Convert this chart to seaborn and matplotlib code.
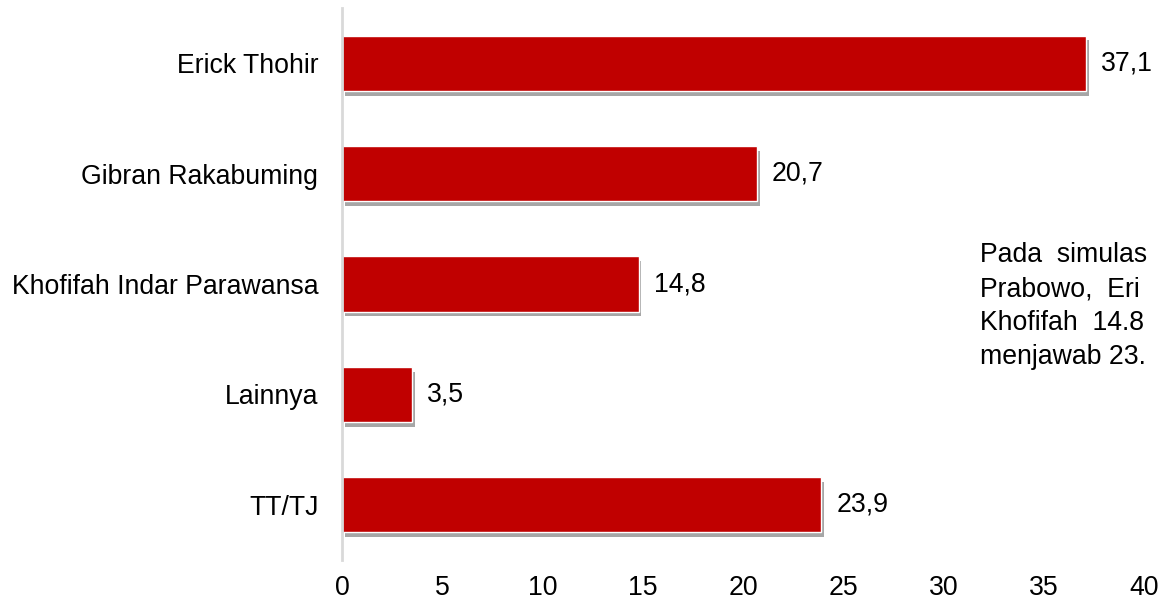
import matplotlib
matplotlib.use("Agg")
import matplotlib.pyplot as plt
import matplotlib.patheffects as pe
import pandas as pd
import seaborn as sns

# data
names = ['Erick Thohir', 'Gibran Rakabuming', 'Khofifah Indar Parawansa', 'Lainnya', 'TT/TJ']
values = [37.1, 20.7, 14.8, 3.5, 23.9]
xticks = [0, 5, 10, 15, 20, 25, 30, 35, 40]
# only the part of the note that fits in the picture
note_lines = ['Pada  simulas',
              'Prabowo,  Eri',
              'Khofifah  14.8',
              'menjawab 23.']

df = pd.DataFrame({'Nama': names, 'Persen': values})

sns.set_style('white')
plt.rcParams['font.family'] = ['Liberation Sans', 'DejaVu Sans']
plt.rcParams['text.color'] = 'black'
plt.rcParams['xtick.color'] = 'black'
plt.rcParams['ytick.color'] = 'black'

fs = 19.2

fig = plt.figure(figsize=(11.6, 6.03), dpi=100)
ax = fig.add_axes([0.2948, 0.0713, 0.6914, 0.9154])

sns.barplot(data=df, x='Persen', y='Nama', color='#C00000', width=0.5,
            saturation=1, ax=ax)
for bar in ax.patches:
    bar.set_path_effects([pe.SimplePatchShadow(offset=(2, -3.5), shadow_rgbFace='#808080', alpha=0.7),
                          pe.Normal()])

for i, v in enumerate(values):
    ax.text(v + 0.75, i, f'{v:.1f}'.replace('.', ','), va='center', ha='left', fontsize=fs)

ax.set_xlim(0, 40)
ax.set_ylim(4.5, -0.5)
ax.set_xticks(xticks)
ax.set_xlabel('')
ax.set_ylabel('')
ax.tick_params(axis='x', labelsize=fs, pad=11, length=0)
ax.tick_params(axis='y', labelsize=fs, pad=17, length=0)
for s in ['top', 'right', 'bottom']:
    ax.spines[s].set_visible(False)
ax.spines['left'].set_color('#d9d9d9')
ax.spines['left'].set_linewidth(2)

y0 = 1 - 262 / 603
for k, line in enumerate(note_lines):
    fig.text(0.845, y0 - k * 34 / 603, line, fontsize=fs, va='baseline', ha='left')

fig.savefig('out.png', dpi=100)
